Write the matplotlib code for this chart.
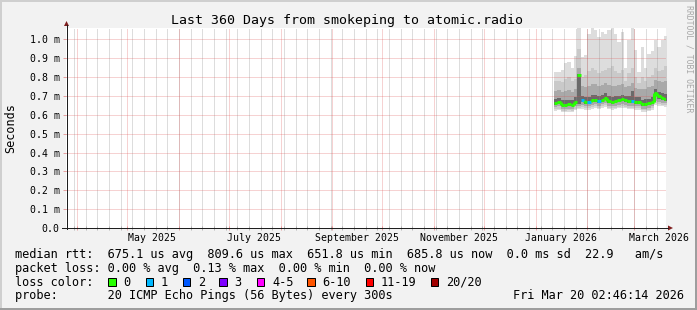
import numpy as np
import pandas as pd
import matplotlib
matplotlib.use("Agg")
import matplotlib.pyplot as plt
from matplotlib.lines import Line2D
from matplotlib.patches import Rectangle, Polygon
from matplotlib.transforms import blended_transform_factory

# --- data (values in ms) ---
t_start = pd.Timestamp("2025-03-25 02:46:14")
t_end = pd.Timestamp("2026-03-20 02:46:14")
first_bin = pd.Timestamp("2026-01-11 20:00")
bin_days = 2

median = [0.663, 0.668, 0.654, 0.654, 0.655, 0.654, 0.667, 0.810, 0.677, 0.668,
          0.668, 0.677, 0.680, 0.672, 0.680, 0.690, 0.672, 0.670, 0.672, 0.677,
          0.682, 0.677, 0.672, 0.672, 0.668, 0.668, 0.656, 0.656, 0.660, 0.670,
          0.716, 0.698, 0.691, 0.686]
loss = [0, 0, 0, 0, 0, 0, 0, 0, 1, 0, 1, 0, 0, 1, 0, 0, 0, 0, 0, 0,
        0, 0, 0, 1, 0, 0, 0, 0, 0, 0, 0, 0, 0, 0]

# smoke envelopes, outer (lightest) to inner (darkest)
hi_a = [0.827, 0.827, 0.836, 0.873, 0.880, 0.850, 0.910, 1.060, 0.906, 0.915,
        1.030, 1.060, 1.050, 1.010, 1.040, 1.030, 1.050, 1.060, 1.030, 0.986,
        1.040, 0.850, 0.995, 1.060, 0.942, 0.827, 0.960, 0.850, 0.920, 0.940,
        0.995, 0.960, 0.995, 1.020]
hi_b = [0.780, 0.780, 0.775, 0.790, 0.800, 0.780, 0.790, 0.950, 0.800, 0.810,
        0.830, 0.850, 0.840, 0.820, 0.830, 0.840, 0.850, 0.860, 0.830, 0.820,
        0.840, 0.780, 0.820, 0.850, 0.800, 0.770, 0.800, 0.780, 0.800, 0.810,
        0.850, 0.830, 0.840, 0.860]
hi_c = [0.725, 0.730, 0.720, 0.728, 0.732, 0.722, 0.738, 0.850, 0.750, 0.748,
        0.755, 0.765, 0.762, 0.752, 0.760, 0.770, 0.758, 0.755, 0.752, 0.756,
        0.762, 0.745, 0.752, 0.770, 0.742, 0.735, 0.738, 0.735, 0.745, 0.752,
        0.785, 0.778, 0.775, 0.780]
hi_d = [0.686, 0.690, 0.678, 0.680, 0.680, 0.678, 0.692, 0.815, 0.702, 0.694,
        0.696, 0.703, 0.706, 0.698, 0.705, 0.714, 0.697, 0.695, 0.697, 0.702,
        0.707, 0.702, 0.697, 0.725, 0.693, 0.692, 0.681, 0.682, 0.686, 0.695,
        0.738, 0.722, 0.715, 0.711]
lo_d = [0.652, 0.657, 0.644, 0.644, 0.645, 0.644, 0.657, 0.658, 0.666, 0.658,
        0.658, 0.666, 0.669, 0.661, 0.669, 0.678, 0.661, 0.659, 0.661, 0.666,
        0.671, 0.666, 0.661, 0.661, 0.657, 0.657, 0.646, 0.646, 0.650, 0.659,
        0.700, 0.686, 0.680, 0.675]
lo_c = [0.640, 0.644, 0.632, 0.632, 0.633, 0.632, 0.644, 0.648, 0.652, 0.646,
        0.646, 0.652, 0.655, 0.648, 0.655, 0.662, 0.648, 0.646, 0.648, 0.652,
        0.657, 0.652, 0.648, 0.648, 0.644, 0.644, 0.633, 0.633, 0.638, 0.646,
        0.675, 0.670, 0.665, 0.662]
lo_b = [0.630, 0.633, 0.622, 0.622, 0.623, 0.622, 0.633, 0.638, 0.640, 0.636,
        0.636, 0.641, 0.644, 0.638, 0.644, 0.650, 0.638, 0.636, 0.638, 0.642,
        0.646, 0.642, 0.638, 0.638, 0.634, 0.634, 0.623, 0.623, 0.628, 0.636,
        0.660, 0.656, 0.652, 0.650]
lo_a = [0.622, 0.625, 0.615, 0.615, 0.616, 0.615, 0.625, 0.630, 0.632, 0.628,
        0.628, 0.633, 0.636, 0.630, 0.636, 0.642, 0.630, 0.628, 0.630, 0.634,
        0.638, 0.634, 0.630, 0.630, 0.626, 0.626, 0.615, 0.615, 0.620, 0.628,
        0.650, 0.648, 0.645, 0.642]

yticks = [0.0, 0.1, 0.2, 0.3, 0.4, 0.5, 0.6, 0.7, 0.8, 0.9, 1.0]
ytick_labels = ["0.0", "0.1 m", "0.2 m", "0.3 m", "0.4 m", "0.5 m",
                "0.6 m", "0.7 m", "0.8 m", "0.9 m", "1.0 m"]
xlabel_months = ["2025-05-01", "2025-07-01", "2025-09-01", "2025-11-01",
                 "2026-01-01", "2026-03-01"]
xlabel_texts = ["May 2025", "July 2025", "September 2025", "November 2025",
                "January 2026", "March 2026"]

loss_keys = ["0", "1", "2", "3", "4-5", "6-10", "11-19", "20/20"]
loss_colors = ["#26ff00", "#00b8ff", "#0059ff", "#7e00ff", "#ff00ff",
               "#ff5500", "#ff0000", "#a10000"]

title = "Last 360 Days from smokeping to atomic.radio"
legend_rtt = "median rtt:  675.1 us avg  809.6 us max  651.8 us min  685.8 us now  0.0 ms sd  22.9   am/s"
legend_loss = "packet loss: 0.00 % avg  0.13 % max  0.00 % min  0.00 % now"
legend_probe = "probe:       20 ICMP Echo Pings (56 Bytes) every 300s"
stamp = "Fri Mar 20 02:46:14 2026"

# --- rrdtool look ---
BACK = "#f2f2f2"
SHADE_A = "#cfcfcf"
SHADE_B = "#9e9e9e"
GRID = (0.56, 0.56, 0.56, 0.6)
MGRID = (0.87, 0.31, 0.31, 0.5)
ARROW = "#801f1f"
AXIS = "#1f1f1f"
MONO = "DejaVu Sans Mono"
PX = 0.72  # one pixel in points at 100 dpi
DOTS = (0, (1, 1))

W, H = 697, 310


def fx(x):
    return x / W


def fy(y):
    return 1 - y / H


fig = plt.figure(figsize=(W / 100, H / 100), dpi=100, facecolor=BACK)
ax = fig.add_axes([fx(66), fy(228), 600 / W, 200 / H])
ax.set_facecolor("white")
for s in ax.spines.values():
    s.set_visible(False)

edges = pd.date_range(first_bin, periods=len(median) + 1, freq=f"{bin_days}D")


def stepped(vals):
    return np.append(vals, vals[-1])


smoke = [(lo_a, hi_a, "#dddddd"), (lo_b, hi_b, "#c9c9c9"),
         (lo_c, hi_c, "#a9a9a9"), (lo_d, hi_d, "#6a6a6a")]
for lo, hi, c in smoke:
    ax.fill_between(edges, stepped(lo), stepped(hi), step="post",
                    color=c, lw=0, zorder=1, antialiased=False)

# dotted grid on top of smoke, like rrdtool
weeks = pd.date_range("2025-03-30", t_end, freq="W-SUN")
months = pd.date_range("2025-04-01", t_end, freq="MS")
for d in weeks:
    ax.axvline(d, color=GRID, lw=PX, ls=DOTS, zorder=2)
for d in months:
    ax.axvline(d, color=MGRID, lw=PX, ls=DOTS, zorder=2)
for v in yticks[1:]:
    ax.axhline(v, color=MGRID, lw=PX, ls=DOTS, zorder=2)

# median: flat pieces per bin, short steps joined in green
for i in range(len(median)):
    ax.hlines(median[i], edges[i], edges[i + 1], color=loss_colors[loss[i]],
              lw=3 * PX, zorder=4)
    if i > 0 and abs(median[i] - median[i - 1]) < 0.05:
        ax.vlines(edges[i], median[i - 1], median[i], color=loss_colors[0],
                  lw=3 * PX, zorder=3)

ax.set_xlim(t_start, t_end)
ax.set_ylim(0, 1.06)
ax.set_yticks(yticks)
ax.set_yticklabels(ytick_labels, family=MONO, fontsize=7.15)
ax.tick_params(axis="y", direction="out", length=3 * PX, width=PX,
               color=MGRID, pad=3.2 * PX)
ax.set_xticks(months)
ax.set_xticks(weeks, minor=True)
ax.tick_params(axis="x", which="major", direction="inout", length=5 * PX,
               width=PX, color=MGRID, labelbottom=False)
ax.tick_params(axis="x", which="minor", direction="inout", length=4 * PX,
               width=PX, color=GRID)

trans = blended_transform_factory(ax.transData, fig.transFigure)
for m, txt in zip(xlabel_months, xlabel_texts):
    ax.text(pd.Timestamp(m) + pd.Timedelta(days=15), fy(241), txt,
            transform=trans, ha="center", va="baseline", family=MONO,
            fontsize=7.15, clip_on=False)

# axes with arrows
fig.add_artist(Line2D([fx(62), fx(668)], [fy(228), fy(228)], color=AXIS, lw=PX))
fig.add_artist(Line2D([fx(66.5), fx(66.5)], [fy(229), fy(25)], color=AXIS, lw=PX))
fig.add_artist(Polygon([(fx(668), fy(225.5)), (fx(668), fy(230.5)), (fx(673), fy(228))],
                       closed=True, color=ARROW, lw=0))
fig.add_artist(Polygon([(fx(64), fy(26)), (fx(69), fy(26)), (fx(66.5), fy(21))],
                       closed=True, color=ARROW, lw=0))

# texts
fig.text(fx(347), fy(24), title, ha="center", va="baseline", family=MONO, fontsize=9.5)
fig.text(fx(11), fy(128), "Seconds", rotation=90, ha="center", va="center",
         family=MONO, fontsize=8.5)
fig.text(fx(689), fy(59), "RRDTOOL / TOBI OETIKER", rotation=270, ha="center",
         va="center", family=MONO, fontsize=5.9, color="#a8a8a8")

fig.text(fx(15), fy(258), legend_rtt, va="baseline", family=MONO, fontsize=8.55)
fig.text(fx(15), fy(272), legend_loss, va="baseline", family=MONO, fontsize=8.55)
fig.text(fx(15), fy(285.7), "loss color:", va="baseline", family=MONO, fontsize=8.55)
fig.text(fx(15), fy(299.3), legend_probe, va="baseline", family=MONO, fontsize=8.55)
fig.text(fx(513), fy(299.3), stamp, va="baseline", family=MONO, fontsize=8.55)

box_x = [108, 145.5, 182.5, 219, 256.5, 307, 365.5, 430.5]
for bx, key, c in zip(box_x, loss_keys, loss_colors):
    fig.add_artist(Rectangle((fx(bx), fy(285.7)), 7.7 / W, 7.7 / H,
                             facecolor=c, edgecolor="black", lw=PX))
    fig.text(fx(bx + 15.5), fy(285.7), key, va="baseline", family=MONO, fontsize=8.55)

# 3d frame
fig.add_artist(Rectangle((0, fy(2)), 1, 2 / H, color=SHADE_A, lw=0))
fig.add_artist(Rectangle((0, 0), 2 / W, 1, color=SHADE_A, lw=0))
fig.add_artist(Rectangle((0, 0), 1, 2 / H, color=SHADE_B, lw=0))
fig.add_artist(Rectangle((fx(695), 0), 2 / W, 1, color=SHADE_B, lw=0))

fig.savefig("out.png", dpi=100, facecolor=BACK)
